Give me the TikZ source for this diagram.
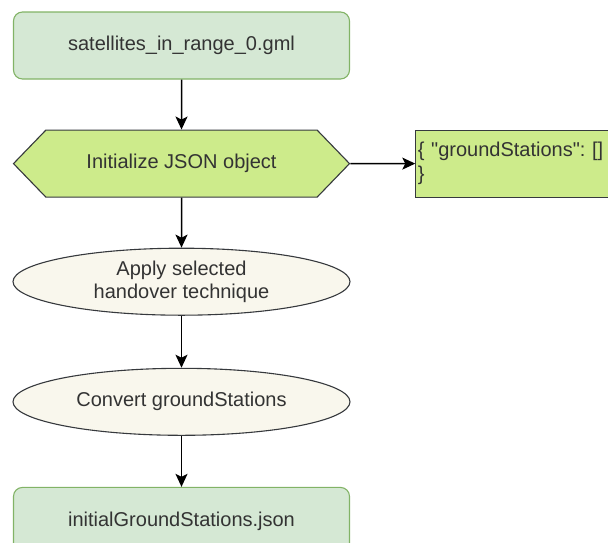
\documentclass[tikz,border=0pt]{standalone}
\usepackage{fontspec}
\setmainfont{Liberation Sans}
\usetikzlibrary{positioning, arrows.meta, shapes.geometric, shapes.symbols}
\definecolor{filefill}{HTML}{D5E8D4}
\definecolor{filedraw}{HTML}{82B366}
\definecolor{stepfill}{HTML}{CDEB8B}
\definecolor{darkline}{HTML}{36393D}
\definecolor{procfill}{HTML}{F9F7ED}
\definecolor{textcolor}{HTML}{333333}
\frenchspacing

\begin{document}
\begin{tikzpicture}[
    x=1pt, y=1pt,
    every node/.style={font=\fontsize{20}{24}\selectfont, text=textcolor},
    file box/.style={rectangle, rounded corners=9pt, draw=filedraw, fill=filefill, line width=1.1pt, minimum width=336pt, minimum height=67pt},
    init hex/.style={signal, signal to=west and east, signal pointer angle=92, draw=darkline, fill=stepfill, line width=1.1pt, minimum width=336pt, minimum height=67pt},
    json box/.style={rectangle, draw=darkline, fill=stepfill, line width=1.1pt, minimum height=67pt, text width=196pt, align=left, inner xsep=2pt},
    process/.style={ellipse, draw=darkline, fill=procfill, line width=1.1pt, minimum width=337pt, minimum height=67pt, align=center, inner sep=0pt, font=\fontsize{20}{23}\selectfont},
    arrow/.style={-{Stealth[length=13pt, width=12pt, inset=3pt]}, line width=1.5pt, black},
]
\useasboundingbox (0,0) rectangle (608,-542);

% ======= MAIN FLOW =======
\node[file box] (gml) at (181.5,-45.5) {satellites\_in\_range\_0.gml};
\node[init hex, below=50pt of gml] (init) {Initialize JSON object};
\node[process, below=50pt of init] (apply) {Apply selected\\handover technique};
\node[process, below=52pt of apply] (convert) {Convert groundStations};
\node[file box, below=51pt of convert] (out) {initialGroundStations.json};

% ======= JSON OBJECT =======
\node[json box, right=65pt of init] (json) {\{ \textquotedbl groundStations\textquotedbl: []\\\}};

% ======= CONNECTIONS =======
\draw[arrow] (gml) -- (init);
\draw[arrow] (init) -- (json);
\draw[arrow] (init) -- (apply);
\draw[arrow] (apply) -- (convert);
\draw[arrow] (convert) -- (out);

\end{tikzpicture}
\end{document}
